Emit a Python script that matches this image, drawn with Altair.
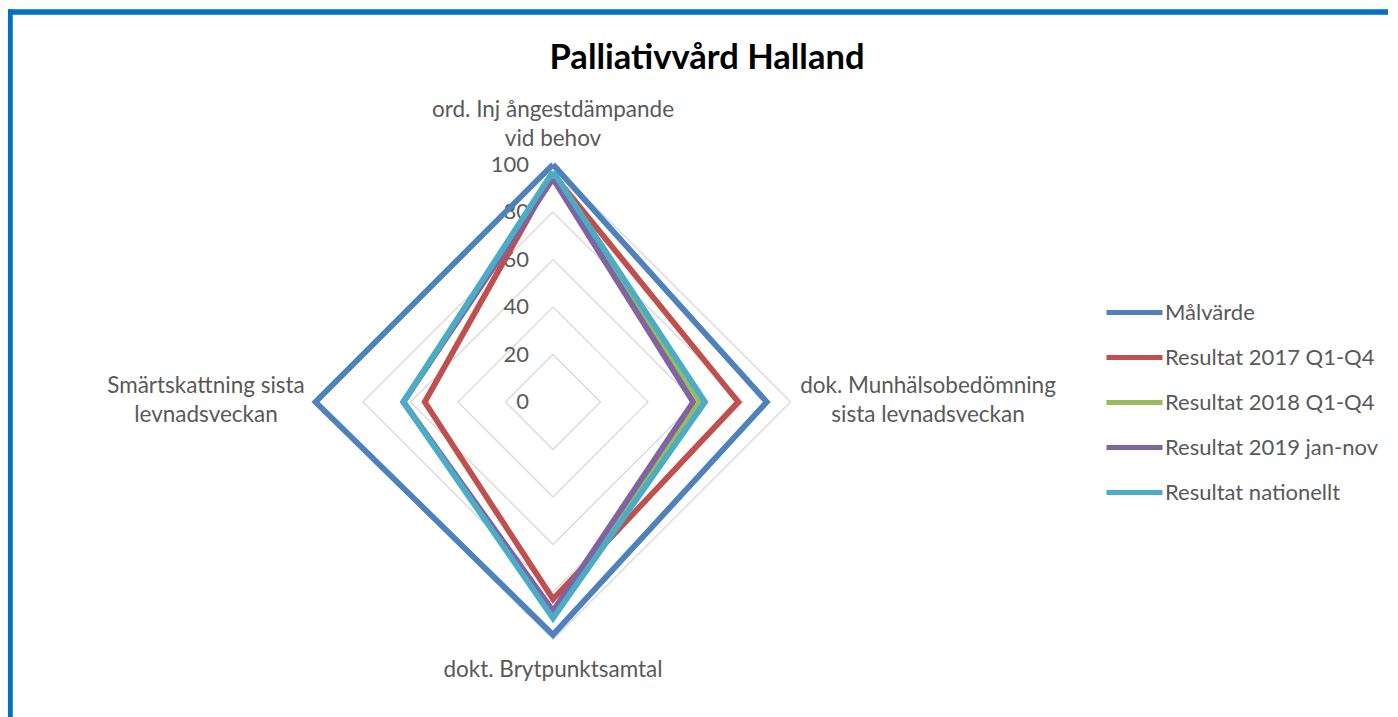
import altair as alt
import pandas as pd

# ---------------- data ----------------
title_text = "Palliativvård Halland"
categories = [
    "ord. Inj ångestdämpande\nvid behov",
    "dok. Munhälsobedömning\nsista levnadsveckan",
    "dokt. Brytpunktsamtal",
    "Smärtskattning sista\nlevnadsveckan",
]
series = [
    "Målvärde",
    "Resultat 2017 Q1-Q4",
    "Resultat 2018 Q1-Q4",
    "Resultat 2019 jan-nov",
    "Resultat nationellt",
]
malvarde = [100, 90, 98, 100]
res_2017 = [96, 78, 83, 54]
res_2018 = [95, 62, 89, 63]
res_2019 = [94, 59, 88, 63]
res_nat = [97, 64, 91, 63]
grid_levels = [20, 40, 60, 80, 100]
tick_labels = [0, 20, 40, 60, 80, 100]
colors = ["#4F81BD", "#C0504D", "#9BBB59", "#8064A2", "#4BACC6"]

# ---------------- tables ----------------
n = len(categories)
rows = []
for name, vals in zip(series, [malvarde, res_2017, res_2018, res_2019, res_nat]):
    for j in range(n + 1):
        rows.append({"series": name, "k": j, "value": vals[j % n]})
series_df = pd.DataFrame(rows)

grid_df = pd.DataFrame(
    [{"level": lv, "k": j} for lv in grid_levels for j in range(n + 1)]
)
tick_df = pd.DataFrame({"level": tick_labels})
cat_df = pd.DataFrame({"k": list(range(n)), "label": categories})

# ---------------- layout ----------------
FONT = "Lato"
TXT = "#595959"
W, H = 1380, 709
K = 2.375            # pixels per unit
CX, CY = 545, 394    # centre in plot coordinates
xs = alt.Scale(domain=[-CX / K, (W - CX) / K], nice=False, zero=False)
ys = alt.Scale(domain=[-(H - CY) / K, CY / K], nice=False, zero=False)

ang = "datum.k * PI / 2"

grid = (
    alt.Chart(grid_df)
    .mark_line(color="#D9D9D9", strokeWidth=1.3, strokeJoin="miter")
    .transform_calculate(gx=f"datum.level * sin({ang})", gy=f"datum.level * cos({ang})")
    .encode(
        x=alt.X("gx:Q", scale=xs, axis=None),
        y=alt.Y("gy:Q", scale=ys, axis=None),
        detail="level:N",
        order="k:Q",
    )
)

ticks = (
    alt.Chart(tick_df)
    .mark_text(align="right", baseline="middle", dx=-24, font=FONT, fontSize=22, color=TXT)
    .transform_calculate(tx="0")
    .encode(
        x=alt.X("tx:Q", scale=xs, axis=None),
        y=alt.Y("level:Q", scale=ys, axis=None),
        text="level:Q",
    )
)

lines = (
    alt.Chart(series_df)
    .mark_line(strokeWidth=5.8, strokeJoin="miter")
    .transform_calculate(sx=f"datum.value * sin({ang})", sy=f"datum.value * cos({ang})")
    .encode(
        x=alt.X("sx:Q", scale=xs, axis=None),
        y=alt.Y("sy:Q", scale=ys, axis=None),
        color=alt.Color(
            "series:N",
            scale=alt.Scale(domain=series, range=colors),
            legend=alt.Legend(
                title=None,
                orient="none",
                legendX=1096,
                legendY=274,
                symbolType="stroke",
                symbolSize=3136,
                symbolStrokeWidth=5,
                labelFont=FONT,
                labelFontSize=22,
                labelColor=TXT,
                labelOffset=0,
                labelLimit=0,
                rowPadding=3,
                padding=0,
            ),
        ),
        order="k:Q",
    )
)

# category labels: (dx, dy) styling per spoke
label_style = [(0, -47.5), (137.5, -9), (0, 37.5), (-109.5, -9)]
label_layers = []
for i, (dx, dy) in enumerate(label_style):
    label_layers.append(
        alt.Chart(cat_df)
        .transform_filter(f"datum.k == {i}")
        .transform_calculate(lx=f"100 * sin({ang})", ly=f"100 * cos({ang})")
        .mark_text(
            align="center",
            baseline="alphabetic",
            dx=dx,
            dy=dy,
            lineBreak="\n",
            lineHeight=28.5,
            font=FONT,
            fontSize=22.5,
            color=TXT,
        )
        .encode(
            x=alt.X("lx:Q", scale=xs, axis=None),
            y=alt.Y("ly:Q", scale=ys, axis=None),
            text="label:N",
        )
    )

title = (
    alt.Chart(pd.DataFrame({"t": [title_text]}))
    .mark_text(font=FONT, fontSize=34.5, fontWeight="bold", color="black", align="center", baseline="alphabetic")
    .encode(x=alt.value(699), y=alt.value(61), text="t:N")
)

one = pd.DataFrame({"a": [0]})
border_left = alt.Chart(one).mark_rule(color="#0070C0", strokeWidth=5.5).encode(
    x=alt.value(2), y=alt.value(1.25), y2=alt.value(H)
)
border_top = alt.Chart(one).mark_rule(color="#0070C0", strokeWidth=5.5).encode(
    x=alt.value(-1), x2=alt.value(W), y=alt.value(4)
)

chart = (
    alt.layer(grid, ticks, lines, *label_layers, title, border_left, border_top)
    .properties(width=W, height=H, padding=0, autosize=alt.AutoSizeParams(type="none"))
    .configure_view(stroke=None)
)

chart.save("out.html", embed_options={"renderer": "svg", "actions": False})
